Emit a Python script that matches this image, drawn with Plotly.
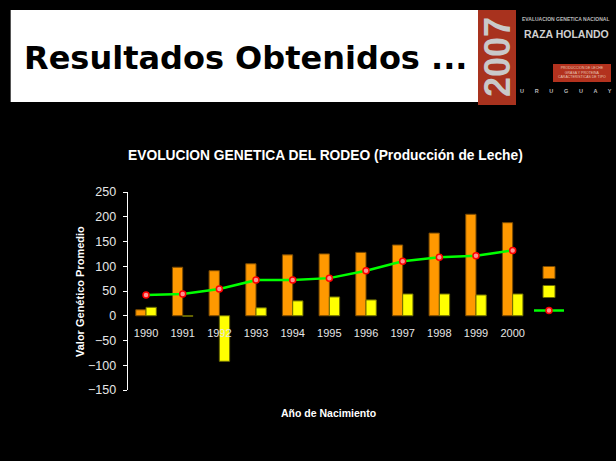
import plotly.graph_objects as go

# ---- data ----
years = ["1990", "1991", "1992", "1993", "1994", "1995", "1996", "1997", "1998", "1999", "2000"]
serie_orange = [12, 98, 91, 105, 123, 125, 128, 143, 167, 205, 188]
serie_yellow = [17, -1, -92, 16, 30, 38, 32, 44, 44, 42, 44]
serie_line = [42, 44, 54, 72, 72, 76, 91, 110, 118, 121, 132]
series_names = ["Padres", "Madres", "Promedio"]
y_ticks = [-150, -100, -50, 0, 50, 100, 150, 200, 250]

W, H = 616, 461


def px(x):
    return x / W


def py(y):
    return 1 - y / H


FONT = "Liberation Sans, Arial, sans-serif"

y_dom = [py(390), py(192)]
y_range = [-150, 250]
zero_pos = y_dom[0] + (0 - y_range[0]) / (y_range[1] - y_range[0]) * (y_dom[1] - y_dom[0])

fig = go.Figure()
fig.add_trace(go.Bar(
    x=years, y=serie_orange, name=series_names[0],
    marker=dict(color="#FF9900", line=dict(color="#7a4a00", width=1)),
))
fig.add_trace(go.Bar(
    x=years, y=serie_yellow, name=series_names[1],
    marker=dict(color="#FFFF00", line=dict(color="#6b6b00", width=1)),
))
fig.add_trace(go.Scatter(
    x=years, y=serie_line, name=series_names[2], mode="lines+markers",
    line=dict(color="#00FF00", width=2.5),
    marker=dict(symbol="circle", size=6, color="#ff9090", line=dict(color="#ff0000", width=1.5)),
))

shapes = [
    # white header
    dict(type="rect", xref="paper", yref="paper", x0=px(11), x1=px(478), y0=py(102), y1=py(10),
         fillcolor="white", line=dict(width=0), layer="below"),
    dict(type="line", xref="paper", yref="paper", x0=px(10.5), x1=px(10.5), y0=py(102), y1=py(10),
         line=dict(color="#555555", width=1), layer="below"),
    # logo red strip
    dict(type="rect", xref="paper", yref="paper", x0=px(478), x1=px(516), y0=py(105), y1=py(10),
         fillcolor="#A8321E", line=dict(width=0), layer="below"),
    # logo red box
    dict(type="rect", xref="paper", yref="paper", x0=px(553), x1=px(611), y0=py(82), y1=py(64),
         fillcolor="#B3321E", line=dict(width=0), layer="below"),
]


def note(text, x, y, size, color="white", weight="normal", angle=0, family=FONT, xanchor="center"):
    return dict(text=text, x=px(x), y=py(y), xref="paper", yref="paper",
                xanchor=xanchor, yanchor="middle", showarrow=False, textangle=angle,
                font=dict(family=family, size=size, color=color, weight=weight))


y_title_center = (390 + 192) / 2

annotations = [
    note("Resultados Obtenidos ...", 22, 58, 32, color="black", weight="bold",
         family="DejaVu Sans, sans-serif", xanchor="left"),
    note("2007", 497, 57, 36, color="#c9c9c9", weight="bold", angle=-90),
    note("EVALUACION GENETICA NACIONAL", 566, 19, 5, color="#bbbbbb", weight="bold"),
    note("RAZA HOLANDO", 566, 34, 10.5, color="#d0d0d0", weight="bold"),
    note("PRODUCCION DE LECHE<br>GRASA Y PROTEINA<br>CARACTERISTICAS DE TIPO", 582, 73, 3.5,
         color="#e8c8b8"),
    note("U       R       U       G       U       A       Y", 566, 91, 5.5,
         color="#bbbbbb", weight="bold"),
    note("EVOLUCION GENETICA DEL RODEO (Producción de Leche)", 325, 155, 13.8, weight="bold"),
    note("Valor Genético Promedio", 80, y_title_center, 11, weight="bold", angle=-90),
    note("Año de Nacimiento", 328, 413, 10.5, weight="bold"),
]

fig.update_layout(
    width=W, height=H,
    margin=dict(l=0, r=0, t=0, b=0, autoexpand=False),
    paper_bgcolor="black", plot_bgcolor="black",
    barmode="group", bargap=0.44, bargroupgap=0,
    shapes=shapes, annotations=annotations,
    xaxis=dict(
        domain=[px(127.7), px(531)], type="category", range=[-0.5, 10.5],
        anchor="free", position=zero_pos, automargin=False,
        showline=False, showgrid=False, zeroline=False,
        ticks="outside", ticklen=7, tickcolor="rgba(0,0,0,0)",
        tickfont=dict(family=FONT, size=11, color="#e6e6e6"),
    ),
    yaxis=dict(
        domain=y_dom, range=y_range, tickvals=y_ticks, automargin=False,
        showline=True, linecolor="white", linewidth=1,
        ticks="outside", ticklen=4, tickcolor="white", ticklabelstandoff=4,
        showgrid=False, zeroline=False,
        tickfont=dict(family=FONT, size=12.5, color="#e6e6e6"),
    ),
    showlegend=True,
    legend=dict(
        x=px(529), y=py(258), xanchor="left", yanchor="top",
        bgcolor="rgba(0,0,0,0)", font=dict(family=FONT, size=1, color="black"),
        traceorder="normal", itemwidth=30,
    ),
)

fig.write_html(
    "out.html",
    config={"displayModeBar": False},
    post_script="document.body.style.margin='0';document.body.style.background='black';",
)
